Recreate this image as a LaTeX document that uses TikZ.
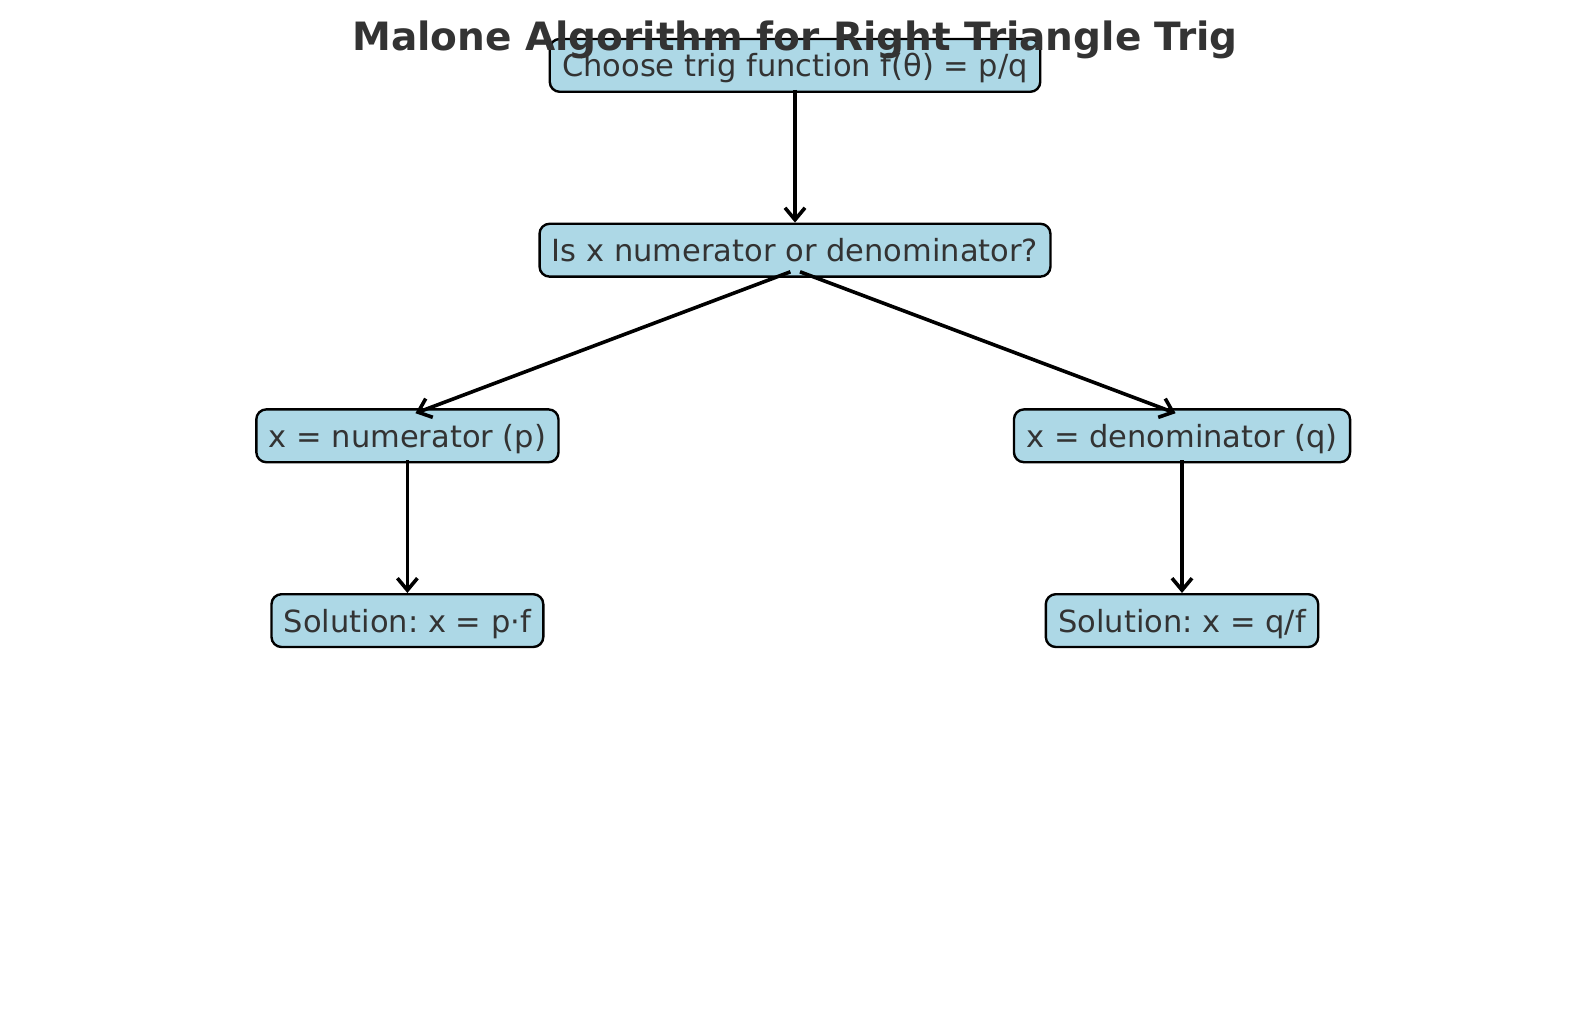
\documentclass[tikz,border=0pt]{standalone}
\usepackage{fontspec}
\setmainfont{DejaVu Sans}
\usetikzlibrary{positioning,arrows.meta}
\definecolor{boxblue}{HTML}{ADD8E6}
\definecolor{textgrey}{HTML}{333333}
\frenchspacing

\begin{document}
\begin{tikzpicture}[x=0.5pt, y=-0.5pt, node distance=64.8pt]
	\tikzset{n/.style={draw=black, line width=1.2pt, fill=boxblue, rounded corners=5pt, text=textgrey,
		font=\fontsize{15.25}{18}\selectfont, minimum height=26.4pt, inner xsep=6.2pt, inner ysep=0pt,
		text height=13.8pt, text depth=2.2pt},
	f/.style={->, >={Straight Barb[length=6pt, width=10pt]}, line width=1.8pt}};

	\useasboundingbox (0,0) rectangle (1589,1010);

	\node[n] (choose) at (795,65.4) {Choose trig function f(θ) = p/q};
	\node[n, below=of choose] (isx) {Is x numerator or denominator?};
	\node[n] (num) at (407.4,435.8) {x = numerator (p)};
	\node[n] (den) at (1182,435.8) {x = denominator (q)};
	\node[n, below=of num] (solp) {Solution: x = p·f};
	\node[n, below=of den] (solq) {Solution: x = q/f};

	\node[anchor=base, text=textgrey, font=\fontsize{19.5}{23}\selectfont\bfseries] (title) at (795,50.7) {Malone Algorithm for Right Triangle Trig};

	\draw[f] ([yshift=1.5pt]choose.south) to (isx.north);
	\draw[f] ([xshift=-2.3pt, yshift=3pt]isx.south) to ([xshift=4pt, yshift=-2.5pt]num.north);
	\draw[f] ([xshift=2.5pt, yshift=3pt]isx.south) to ([xshift=-3.2pt, yshift=-2.5pt]den.north);
	\draw[f] ([yshift=1.5pt]num.south) to (solp.north);
	\draw[f] ([yshift=1.5pt]den.south) to (solq.north);
\end{tikzpicture}
\end{document}
